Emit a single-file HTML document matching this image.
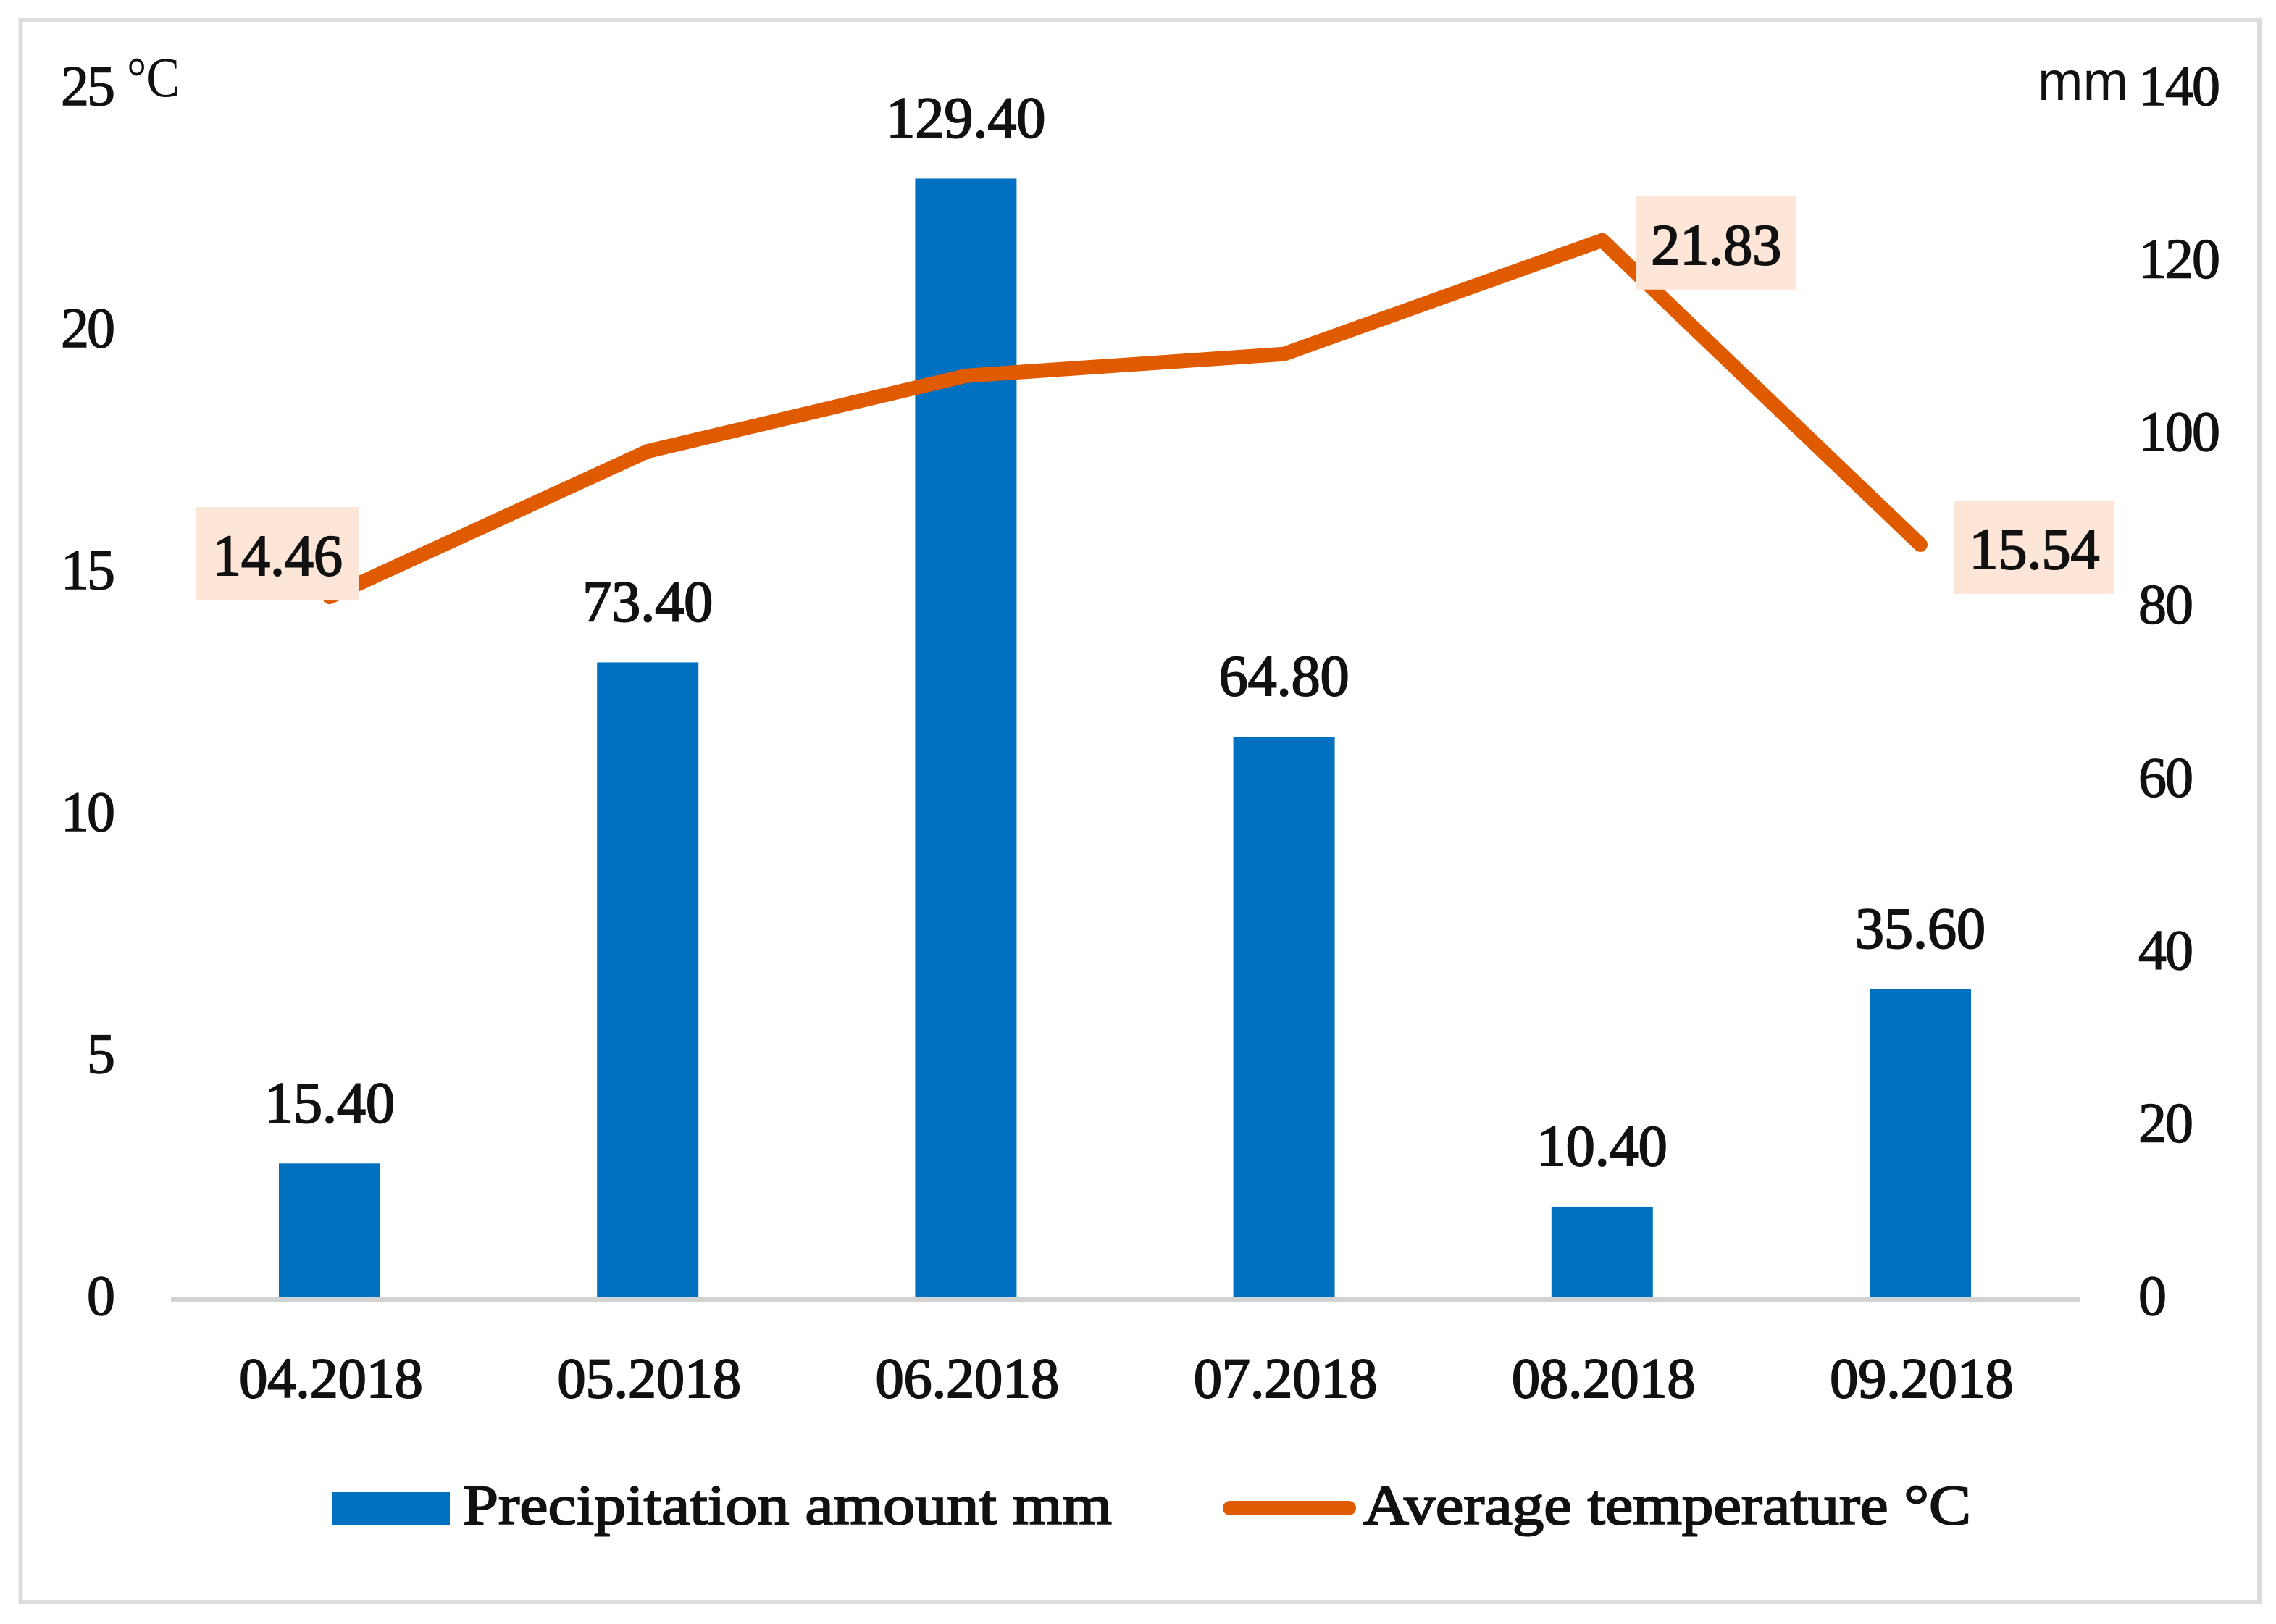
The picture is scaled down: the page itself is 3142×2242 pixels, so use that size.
<!DOCTYPE html>
<html lang="en">
<head>
<meta charset="utf-8">
<title>Precipitation and average temperature, 2018</title>
<style>
html,body{margin:0;padding:0;background:#fff;width:3142px;height:2242px;overflow:hidden}
svg{display:block}
text{font-family:"Liberation Serif",serif;fill:#111}
.semi{stroke:#111;stroke-width:2px}
.tick{stroke:#111;stroke-width:1.4px}
</style>
</head>
<body>
<svg id="chart" xmlns="http://www.w3.org/2000/svg" width="3142" height="2242" viewBox="0 0 3142 2242">
  <rect x="0" y="0" width="3142" height="2242" fill="#ffffff"/>
  <rect x="28.5" y="28" width="3090.5" height="2184" fill="#ffffff" stroke="#dcdcdc" stroke-width="6"/>
  <g id="bars"></g>
  <rect x="236" y="1790" width="2636" height="8" fill="#d2d2d2"/>
  <g id="barLabels"></g>
  <polyline id="tempLine" fill="none" stroke="#e05a00" stroke-width="20" stroke-linecap="round" stroke-linejoin="round"/>
  <g id="tempLabels"></g>
  <g id="leftTicks"></g>
  <g id="rightTicks"></g>
  <g id="xTicks"></g>
  <text x="175" y="133" font-size="78" textLength="73" lengthAdjust="spacingAndGlyphs">°C</text>
  <text x="2813" y="138" font-size="76" textLength="125" lengthAdjust="spacingAndGlyphs" style="font-family:'Liberation Sans',sans-serif">mm</text>
  <g>
    <rect x="458" y="2060" width="163" height="45" fill="#0070c0"/>
    <text class="semi" x="639" y="2104" font-size="78" textLength="896" lengthAdjust="spacingAndGlyphs">Precipitation amount mm</text>
    <line x1="1698" y1="2082" x2="1862" y2="2082" stroke="#e05a00" stroke-width="20" stroke-linecap="round"/>
    <text class="semi" x="1882" y="2104" font-size="78" textLength="839" lengthAdjust="spacingAndGlyphs">Average temperature °C</text>
  </g>
</svg>
<script>
const categories = ['04.2018', '05.2018', '06.2018', '07.2018', '08.2018', '09.2018'];
const precipitation = [15.40, 73.40, 129.40, 64.80, 10.40, 35.60];
const temperature = [14.46, 17.47, 19.03, 19.48, 21.83, 15.54];
const leftTickValues = [0, 5, 10, 15, 20, 25];
const rightTickValues = [0, 20, 40, 60, 80, 100, 120, 140];
const labelledTemperaturePoints = [0, 4, 5];

const NS = 'http://www.w3.org/2000/svg';
const zeroY = 1790;
const plotHeight = 1670;
const xOf = function (i) { return 455 + i * 439.2; };
const yPrecip = function (v) { return zeroY - v / 140 * plotHeight; };
const yTemp = function (v) { return zeroY - v / 25 * plotHeight; };
const make = function (parent, tag, attrs, content) {
  const el = document.createElementNS(NS, tag);
  Object.keys(attrs).forEach(function (k) { el.setAttribute(k, attrs[k]); });
  if (content !== undefined) el.textContent = content;
  document.getElementById(parent).appendChild(el);
  return el;
};

categories.forEach(function (cat, i) {
  const top = yPrecip(precipitation[i]);
  const bar = make('bars', 'rect', { x: xOf(i) - 70, y: top, width: 140, height: zeroY - top, fill: '#0070c0' });
  
  

  const value = make('barLabels', 'text', { x: xOf(i), y: top - 57, 'font-size': 80, 'text-anchor': 'middle', class: 'semi' }, precipitation[i].toFixed(2));
  
  

  const tick = make('xTicks', 'text', { x: xOf(i) + 2, y: 1929, 'font-size': 78, 'text-anchor': 'middle', class: 'semi' }, cat);
  
  
});

document.getElementById('tempLine').setAttribute('points', temperature.map(function (v, i) {
  return xOf(i) + ',' + yTemp(v);
}).join(' '));

labelledTemperaturePoints.forEach(function (i) {
  const px = xOf(i);
  const py = yTemp(temperature[i]);
  const first = i === 0;
  const boxX = first ? px - 184 : px + 47;
  const boxY = first ? py - 124 : py - 61;
  const boxW = first ? 224 : 221;
  const box = make('tempLabels', 'rect', { x: boxX, y: boxY, width: boxW, height: 129, fill: '#fde5d8' });
  
  
  const label = make('tempLabels', 'text', { x: boxX + boxW / 2, y: boxY + 94, 'font-size': 80, 'text-anchor': 'middle', class: 'semi' }, temperature[i].toFixed(2));
  
  
});

leftTickValues.forEach(function (v) {
  const t = make('leftTicks', 'text', { x: 156, y: yTemp(v) + 25, 'font-size': 78, 'text-anchor': 'end', 'letter-spacing': -3, class: 'tick' }, String(v));
  
  
});

rightTickValues.forEach(function (v) {
  const t = make('rightTicks', 'text', { x: 2952, y: yPrecip(v) + 25, 'font-size': 78, 'letter-spacing': -2, class: 'tick' }, String(v));
  
  
});
</script>
</body>
</html>
